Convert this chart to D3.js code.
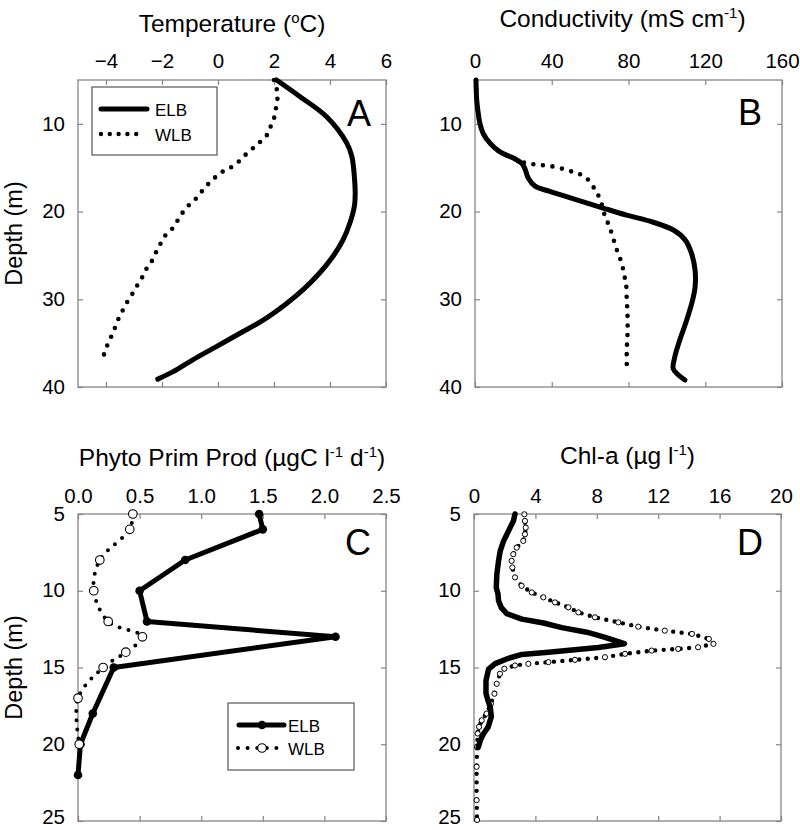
<!DOCTYPE html>
<html><head><meta charset="utf-8">
<script src="https://cdn.jsdelivr.net/npm/d3@7"></script>
<style>
html,body{margin:0;padding:0;background:#fff;}
svg{display:block;font-family:"Liberation Sans",Arial,Helvetica,sans-serif;}
</style></head>
<body>
<svg id="chart" width="800" height="830"></svg>
<script>
// ---------- Panel A: Temperature ----------
const aDepthELB = [5,6.9,9.2,12.2,13.7,16.0,17.9,19.4,21.3,23.2,25.1,27.0,28.9,30.5,32.4,33.9,35.4,36.9,38.25,39.1];
const aTempELB  = [2.09,2.93,3.88,4.6,4.78,4.87,4.9,4.87,4.71,4.47,4.11,3.63,3.04,2.44,1.6,0.77,-0.06,-0.9,-1.6,-2.15];
const aDepthWLB = [5,6.1,7.3,8.2,9.1,9.9,10.9,11.8,12.6,13.5,14.5,15.1,15.6,16.4,17.3,18.3,19.1,20.1,21.1,22.1,22.9,23.9,24.8,25.8,26.7,27.7,28.6,29.6,30.5,31.5,32.4,33.4,34.3,35.3,36.2,37.2];
const aTempWLB  = [2.0,2.1,2.12,2.07,2.03,1.91,1.83,1.59,1.31,0.99,0.67,0.39,0.08,-0.2,-0.48,-0.72,-0.99,-1.26,-1.46,-1.67,-1.93,-2.09,-2.24,-2.39,-2.59,-2.74,-2.92,-3.1,-3.28,-3.44,-3.58,-3.7,-3.82,-3.96,-4.06,-4.21];
const aXTicks = [-4,-2,0,2,4,6];
const aYTicks = [10,20,30,40];

// ---------- Panel B: Conductivity ----------
const bDepthELB = [5,7.3,8.8,10,11.1,12.2,13.2,13.9,14.5,15.1,16.2,17.1,17.7,18.3,18.9,19.6,20.4,21.1,22.1,23.2,24.8,26.7,28.6,30.1,32.4,34.6,36.5,37.9,38.6,39.2];
const bCondELB  = [0.5,0.9,1.7,2.6,4.3,7.8,13,20,24.3,26,27.8,31.3,39,47.7,56.4,66.8,79,91.2,103.4,109.4,112.9,114.7,114.7,113.4,110.3,106.8,104.2,103.3,105.9,109.4];
const bDepthWLB = [5,8,10,11.1,12.2,13.2,13.9,14.49,14.68,14.87,15.25,15.63,16.0,16.96,17.72,18.67,19.62,20.57,21.41,22.47,24.3,25.32,26.27,27.22,28.17,30.08,31.98,33.88,35.78,37.68];
const bCondWLB  = [0.5,1.2,2.6,4.3,7.8,13,20,26.9,33.9,40.8,47.7,53,57.3,60.8,63.4,65.1,66.8,67.7,69.5,71.2,73.8,75.6,76.9,77.7,78.7,79.1,79.5,79.5,79.1,79.1];
const bXTicks = [0,40,80,120,160];
const bYTicks = [10,20,30,40];

// ---------- Panel C: Phyto primary production ----------
const cDepthELB = [5,6,8,10,12,13,15,18,20,22];
const cPPELB    = [1.47,1.5,0.87,0.5,0.56,2.09,0.29,0.12,0.02,0.0];
const cDepthWLB = [5,6,8,10,12,13,14,15,17,20];
const cPPWLB    = [0.445,0.42,0.177,0.128,0.245,0.523,0.388,0.204,0.0,0.01];
const cXTicks = [0,0.5,1.0,1.5,2.0,2.5];
const cYTicks = [5,10,15,20,25];

// ---------- Panel D: Chl-a ----------
const dDepthELB = [5.0,5.45,6.1,6.75,7.4,8.05,8.9,9.8,10.2,10.65,11.1,11.5,11.85,12.1,12.4,12.7,13.0,13.45,13.7,14.0,14.15,14.4,14.75,15.1,15.85,16.7,17.15,17.6,18.2,18.9,19.3,19.75,20.2];
const dChlELB   = [2.67,2.57,2.25,1.93,1.71,1.60,1.49,1.45,1.56,1.6,1.78,2.15,3.12,4.53,5.72,7.35,8.43,9.8,8.1,4.85,3.12,2.25,1.38,0.95,0.78,0.78,0.91,1.06,1.13,0.91,0.63,0.41,0.28];
const dDepthWLB = [5.02,5.45,5.89,6.32,6.75,7.19,7.62,8.05,8.48,9.13,9.68,10.11,10.43,10.76,11.08,11.41,11.73,12.06,12.34,12.6,12.81,13.14,13.46,13.68,13.79,13.9,14.11,14.33,14.5,14.65,14.76,14.87,15.08,15.41,16.06,16.71,17.36,18.0,18.44,18.87,19.3,20.17,21.47,23.64,24.93];
const dChlWLB   = [3.28,3.32,3.37,3.32,3.21,2.78,2.56,2.45,2.5,2.67,3.1,3.76,4.52,5.28,6.15,6.8,7.88,9.4,10.7,12.43,14.2,15.3,15.6,14.6,13.3,11.57,9.84,8.53,6.58,4.85,3.54,2.67,1.98,1.69,1.48,1.33,1.1,0.82,0.5,0.33,0.24,0.2,0.17,0.17,0.2];
const dXTicks = [0,4,8,12,16,20];
const dYTicks = [5,10,15,20,25];

const seriesNames = ["ELB","WLB"];

const svg = d3.select("#chart");
const FRAME = "#858585";

function zip(ds, vs){ return ds.map((d,i)=>({d:d, v:vs[i]})); }

function panel(cfg){
  const x = d3.scaleLinear().domain(cfg.xDomain).range([cfg.left, cfg.right]);
  const y = d3.scaleLinear().domain(cfg.yDomain).range([cfg.top, cfg.bottom]);
  const g = svg.append("g");

  const top = g.append("g").attr("transform",`translate(0,${cfg.top})`)
    .call(d3.axisTop(x).tickValues(cfg.xTicks).tickFormat(cfg.xFmt).tickSizeInner(-5).tickSizeOuter(0).tickPadding(cfg.xPad));
  const bot = g.append("g").attr("transform",`translate(0,${cfg.bottom})`)
    .call(d3.axisBottom(x).tickValues(cfg.xTicks).tickFormat("").tickSizeInner(-5).tickSizeOuter(0));
  const lef = g.append("g").attr("transform",`translate(${cfg.left},0)`)
    .call(d3.axisLeft(y).tickValues(cfg.yTicks).tickSizeInner(-5).tickSizeOuter(0).tickPadding(13));
  const rig = g.append("g").attr("transform",`translate(${cfg.right},0)`)
    .call(d3.axisRight(y).tickValues(cfg.yTicks).tickFormat("").tickSizeInner(-5).tickSizeOuter(0));
  [top,bot,lef,rig].forEach(a=>{
    a.select(".domain").remove();
    a.selectAll(".tick line").attr("stroke",FRAME).attr("stroke-width",1.2);
    a.selectAll(".tick text").attr("font-size",20.5).attr("fill","#000")
      .attr("font-family","'Liberation Sans',Arial,sans-serif");
  });
  top.selectAll(".tick text").attr("dy","0em");
  lef.selectAll(".tick text").attr("dy",d => (y(d) > 800 ? "0.12em" : "0.3em"));

  g.append("rect").attr("x",cfg.left).attr("y",cfg.top)
    .attr("width",cfg.right-cfg.left).attr("height",cfg.bottom-cfg.top)
    .attr("fill","none").attr("stroke",FRAME).attr("stroke-width",1.3);

  const t = g.append("text").attr("x",(cfg.left+cfg.right)/2 + (cfg.titleDx||0)).attr("y",cfg.titleY)
    .attr("text-anchor","middle").attr("font-size",24.5).attr("fill","#000");
  let raised = false;
  cfg.title.forEach(p=>{
    if(p.sup){
      t.append("tspan").attr("font-size",15).attr("dy",raised?0:-9).text(p.sup);
      raised = true;
    } else {
      t.append("tspan").attr("dy",raised?9:0).text(p.t);
      raised = false;
    }
  });

  g.append("text").attr("x",cfg.letterX).attr("y",cfg.letterY).attr("font-size",36)
    .attr("fill","#000").text(cfg.letter);

  if(cfg.ylabel){
    g.append("text").attr("transform",`translate(22,${(cfg.top+cfg.bottom)/2}) rotate(-90)`)
      .attr("text-anchor","middle").attr("font-size",23.5).attr("fill","#000").text("Depth (m)");
  }
  return {g,x,y};
}

function solidLine(p, data, curve, w){
  p.g.append("path").datum(data)
    .attr("d", d3.line().x(d=>p.x(d.v)).y(d=>p.y(d.d)).curve(curve))
    .attr("fill","none").attr("stroke","#000").attr("stroke-width",w)
    .attr("stroke-linejoin","round").attr("stroke-linecap","round");
}
function dottedLine(p, data, curve, w, gap){
  p.g.append("path").datum(data)
    .attr("d", d3.line().x(d=>p.x(d.v)).y(d=>p.y(d.d)).curve(curve))
    .attr("fill","none").attr("stroke","#000").attr("stroke-width",w)
    .attr("stroke-dasharray",`0,${gap}`).attr("stroke-linecap","round");
}

// ----- A -----
const pA = panel({left:78,right:386,top:80,bottom:387,xDomain:[-5,6],yDomain:[5,40],
  xTicks:aXTicks,yTicks:aYTicks,xFmt:d3.format("d"),xPad:12,titleY:32,
  title:[{t:"Temperature ("},{sup:"o"},{t:"C)"}],letter:"A",letterX:347,letterY:126,ylabel:true});
dottedLine(pA, zip(aDepthWLB,aTempWLB), d3.curveCatmullRom, 4.6, 9.6);
solidLine(pA, zip(aDepthELB,aTempELB), d3.curveCatmullRom, 5);
pA.g.append("rect").attr("x",92).attr("y",87).attr("width",125).attr("height",68)
  .attr("fill","#fff").attr("stroke","#555").attr("stroke-width",1.2);
pA.g.append("line").attr("x1",101).attr("x2",147).attr("y1",109).attr("y2",109)
  .attr("stroke","#000").attr("stroke-width",5).attr("stroke-linecap","round");
pA.g.append("line").attr("x1",101).attr("x2",145).attr("y1",134).attr("y2",134)
  .attr("stroke","#000").attr("stroke-width",4.4).attr("stroke-dasharray","0,8.8").attr("stroke-linecap","round");
pA.g.append("text").attr("x",155).attr("y",115.5).attr("font-size",17).text(seriesNames[0]);
pA.g.append("text").attr("x",155).attr("y",140.5).attr("font-size",17).text(seriesNames[1]);

// ----- B -----
const pB = panel({left:475,right:782,top:80,bottom:387,xDomain:[0,160],yDomain:[5,40],
  xTicks:bXTicks,yTicks:bYTicks,xFmt:d3.format("d"),xPad:12,titleY:27,titleDx:-6,
  title:[{t:"Conductivity (mS cm"},{sup:"-1"},{t:")"}],letter:"B",letterX:738,letterY:125,ylabel:false});
dottedLine(pB, zip(bDepthWLB,bCondWLB), d3.curveCatmullRom, 4.6, 9.6);
solidLine(pB, zip(bDepthELB,bCondELB), d3.curveCatmullRom, 5);

// ----- C -----
const pC = panel({left:78,right:386,top:514,bottom:821,xDomain:[0,2.5],yDomain:[5,25],
  xTicks:cXTicks,yTicks:cYTicks,xFmt:d3.format(".1f"),xPad:11,titleY:466,
  title:[{t:"Phyto Prim Prod (µgC l"},{sup:"-1"},{t:" d"},{sup:"-1"},{t:")"}],letter:"C",letterX:345,letterY:555,ylabel:true});
const cW = zip(cDepthWLB,cPPWLB), cE = zip(cDepthELB,cPPELB);
dottedLine(pC, cW, d3.curveCatmullRom, 4, 9.2);
solidLine(pC, cE, d3.curveLinear, 5);
pC.g.selectAll("circle.ce").data(cE).join("circle").attr("class","ce")
  .attr("cx",d=>pC.x(d.v)).attr("cy",d=>pC.y(d.d)).attr("r",4.3).attr("fill","#000");
pC.g.selectAll("circle.cw").data(cW).join("circle").attr("class","cw")
  .attr("cx",d=>pC.x(d.v)).attr("cy",d=>pC.y(d.d)).attr("r",4.3)
  .attr("fill","#fff").attr("stroke","#000").attr("stroke-width",1.1);
pC.g.append("rect").attr("x",228).attr("y",703).attr("width",126).attr("height",67)
  .attr("fill","#fff").attr("stroke","#555").attr("stroke-width",1.2);
pC.g.append("line").attr("x1",239).attr("x2",284).attr("y1",725).attr("y2",725)
  .attr("stroke","#000").attr("stroke-width",5).attr("stroke-linecap","round");
pC.g.append("circle").attr("cx",262).attr("cy",725).attr("r",4.3).attr("fill","#000");
pC.g.append("line").attr("x1",238).attr("x2",282).attr("y1",748).attr("y2",748)
  .attr("stroke","#000").attr("stroke-width",4).attr("stroke-dasharray","0,9.6").attr("stroke-linecap","round");
pC.g.append("circle").attr("cx",262).attr("cy",748).attr("r",4.3).attr("fill","#fff")
  .attr("stroke","#000").attr("stroke-width",1.1);
pC.g.append("text").attr("x",288).attr("y",731.5).attr("font-size",17).text(seriesNames[0]);
pC.g.append("text").attr("x",288).attr("y",755).attr("font-size",17).text(seriesNames[1]);

// ----- D -----
const pD = panel({left:474,right:781,top:514,bottom:821,xDomain:[0,20],yDomain:[5,25],
  xTicks:dXTicks,yTicks:dYTicks,xFmt:d3.format("d"),xPad:11,titleY:464,
  title:[{t:"Chl-a (µg l"},{sup:"-1"},{t:")"}],letter:"D",letterX:737,letterY:555,ylabel:false});
const dW = zip(dDepthWLB,dChlWLB), dE = zip(dDepthELB,dChlELB);
dottedLine(pD, dW, d3.curveLinear, 4.4, 8.5);
pD.g.selectAll("circle.dw").data(dW).join("circle").attr("class","dw")
  .attr("cx",d=>pD.x(d.v)).attr("cy",d=>pD.y(d.d)).attr("r",2.6)
  .attr("fill","#fff").attr("stroke","#000").attr("stroke-width",1);
solidLine(pD, dE, d3.curveLinear, 5.5);
</script>
</body></html>
